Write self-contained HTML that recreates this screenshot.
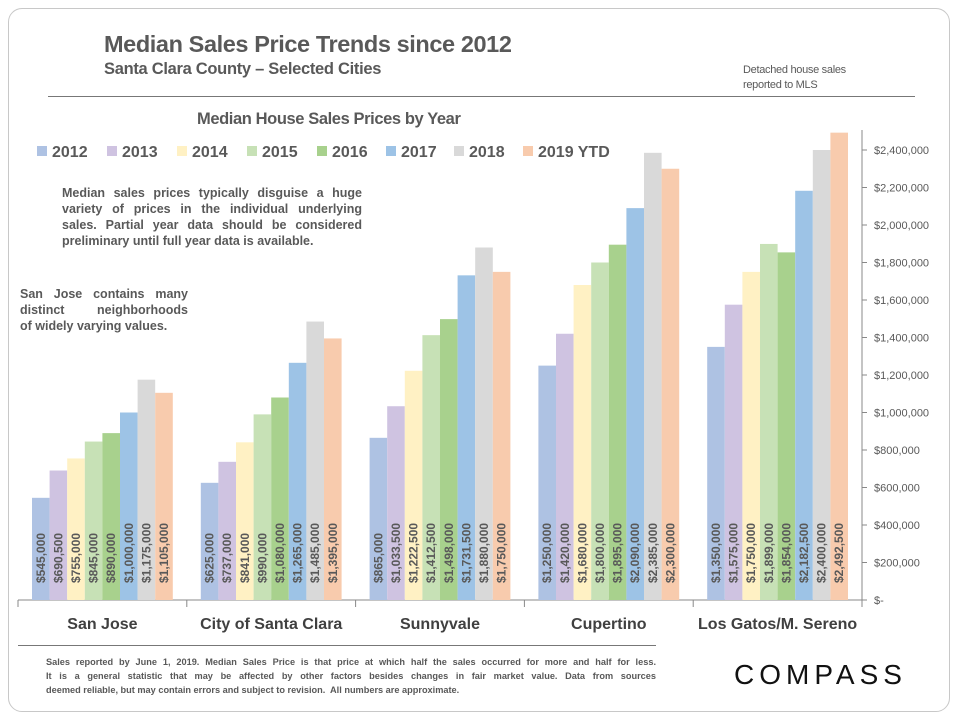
<!DOCTYPE html>
<html><head><meta charset="utf-8"><style>
body{margin:0;background:#fff;width:960px;height:720px;overflow:hidden;font-family:"Liberation Sans",sans-serif;color:#595959}
.card{position:absolute;left:8px;top:8px;width:940px;height:702px;border:1px solid #c8c8c8;border-radius:14px}
.abs{position:absolute}
.j span{display:block;text-align:justify;text-align-last:justify;white-space:nowrap}
.j span.last{text-align-last:left}
</style></head><body>
<div class="card"></div>
<div class="abs" style="left:104px;top:31px;font-size:23.5px;font-weight:bold;color:#595959;letter-spacing:-0.4px">Median Sales Price Trends since 2012</div>
<div class="abs" style="left:104px;top:60px;font-size:16.5px;font-weight:bold;letter-spacing:-0.3px">Santa Clara County – Selected Cities</div>
<div class="abs" style="left:743px;top:63px;font-size:11px;line-height:15px;letter-spacing:-0.3px">Detached house sales<br>reported to MLS</div>
<div class="abs" style="left:48px;top:96px;width:867px;height:1px;background:#777"></div>
<div class="abs" style="left:197px;top:110px;font-size:16.5px;font-weight:bold;letter-spacing:-0.4px">Median House Sales Prices by Year</div>
<div class="abs j" style="left:62px;top:185px;width:300px;font-size:12.5px;font-weight:bold;line-height:16px">
<span>Median sales prices typically disguise a huge</span>
<span>variety of prices in the individual underlying</span>
<span>sales. Partial year data should be considered</span>
<span class="last">preliminary until full year data is available.</span></div>
<div class="abs j" style="left:20px;top:286px;width:168px;font-size:12.5px;font-weight:bold;line-height:16px">
<span>San Jose contains many</span>
<span>distinct neighborhoods</span>
<span class="last">of widely varying values.</span></div>
<svg class="abs" style="left:0;top:0" width="960" height="720" id="chart"></svg>
<div class="abs" style="left:18px;top:645px;width:638px;height:1px;background:#777"></div>
<div class="abs j" style="left:46px;top:655px;width:610px;font-size:9.2px;font-weight:bold;line-height:14px">
<span>Sales reported by June 1, 2019. Median Sales Price is that price at which half the sales occurred for more and half for less.</span>
<span>It is a general statistic that may be affected by other factors besides changes in fair market value. Data from sources</span>
<span class="last">deemed reliable, but may contain errors and subject to revision.&nbsp; All numbers are approximate.</span></div>
<div class="abs" style="left:734px;top:659px;font-size:28px;letter-spacing:5px;color:#111">COMPASS</div>
<script>
const cities=["San Jose","City of Santa Clara","Sunnyvale","Cupertino","Los Gatos/M. Sereno"];
const years=["2012","2013","2014","2015","2016","2017","2018","2019 YTD"];
const v2012=[545000,625000,865000,1250000,1350000];
const v2013=[690500,737000,1033500,1420000,1575000];
const v2014=[755000,841000,1222500,1680000,1750000];
const v2015=[845000,990000,1412500,1800000,1899000];
const v2016=[890000,1080000,1498000,1895000,1854000];
const v2017=[1000000,1265000,1731500,2090000,2182500];
const v2018=[1175000,1485000,1880000,2385000,2400000];
const v2019=[1105000,1395000,1750000,2300000,2492500];
const yTicks=[0,200000,400000,600000,800000,1000000,1200000,1400000,1600000,1800000,2000000,2200000,2400000];
const series=[v2012,v2013,v2014,v2015,v2016,v2017,v2018,v2019];
const colors=["#aec2e3","#cfc3e1","#fff1c4","#c7e1b6","#a8d18d","#9dc3e6","#d9d9d9","#f8cbad"];
const NS="http://www.w3.org/2000/svg";
const svg=document.getElementById("chart");
const x0=18,x1=862,yB=600,yT=150,vmax=2400000;
const y=v=>yB-(v/vmax)*(yB-yT);
const cw=(x1-x0)/cities.length;
const bw=17.6;
const fmt=v=>"$"+v.toLocaleString("en-US");
function mk(t,a){const e=document.createElementNS(NS,t);for(const k in a)e.setAttribute(k,a[k]);svg.appendChild(e);return e;}
let ax=mk("line",{x1:x1,y1:yT-20,x2:x1,y2:yB,stroke:"#888"});


let bx=mk("line",{x1:x0,y1:yB,x2:x1,y2:yB,stroke:"#888"});


yTicks.forEach(t=>{
 const l=mk("line",{x1:x1,y1:y(t),x2:x1+5,y2:y(t),stroke:"#888"});
 
 
 const tx=mk("text",{x:x1+12,y:y(t)+4,"font-size":"11","fill":"#595959"});
 tx.textContent=t===0?"$-":fmt(t);
 
 
});
for(let i=0;i<=cities.length;i++){
 const l=mk("line",{x1:x0+i*cw,y1:yB,x2:x0+i*cw,y2:yB+7,stroke:"#888"});
 
 
}
cities.forEach((c,i)=>{
 const cx=x0+i*cw+cw/2;
 const start=cx-bw*4;
 series.forEach((s,j)=>{
  const bx=start+j*bw;
  const r=mk("rect",{x:bx,y:y(s[i]),width:bw,height:yB-y(s[i]),fill:colors[j]});
  
  
  const t=mk("text",{x:0,y:0,"font-size":"12","font-weight":"bold","fill":"#595959",transform:`translate(${bx+bw/2+4},${yB-17}) rotate(-90)`});
  t.textContent=fmt(s[i]);
  
  
 });
 const lt=mk("text",{x:cx,y:629,"font-size":"16","font-weight":"bold","fill":"#404040","text-anchor":"middle"});
 lt.textContent=c;
 
 
});
const lx=[37,107,177,247,317,386,454,523];
years.forEach((yr,j)=>{
 const r=mk("rect",{x:lx[j],y:146,width:10,height:10,fill:colors[j]});
 
 
 const t=mk("text",{x:lx[j]+15,y:157,"font-size":"16","font-weight":"bold","fill":"#595959"});
 t.textContent=yr;
 
 
});
</script>
</body></html>
